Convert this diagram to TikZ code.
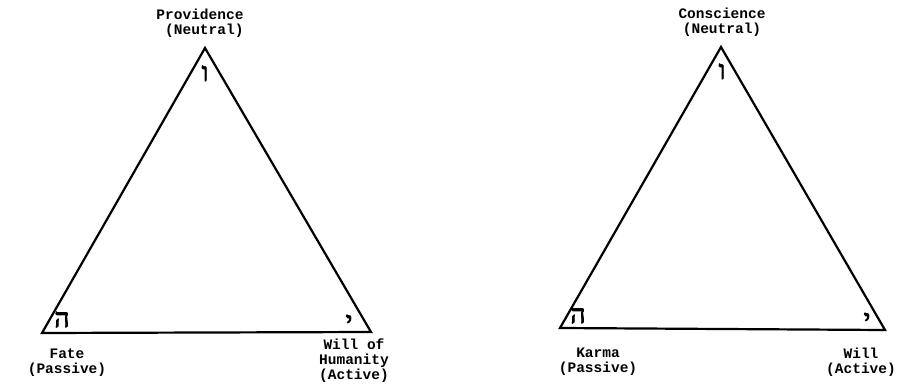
\documentclass[tikz,border=0pt]{standalone}
\usepackage{fontspec}
\setmonofont{Liberation Mono}
\newfontfamily\hebfont[Script=Hebrew, FakeBold=3]{Liberation Serif}
\begin{document}
\begin{tikzpicture}[x=1pt,y=-1pt,
  lbl/.style={font=\ttfamily\bfseries\fontsize{14.5}{15}\selectfont, align=center, inner sep=0pt},
  heb/.style={font=\hebfont\fontsize{26}{26}\selectfont, inner sep=0pt, anchor=base},
  tri/.style={line width=2.2pt, line join=miter}]
\useasboundingbox (0,0) rectangle (918,385);
% left triangle
\coordinate (LA) at (205,48);
\coordinate (LB) at (42,333);
\coordinate (LC) at (371,332);
\draw[tri] (LA) -- (LB) -- (LC) -- cycle;
\node[heb] (lv) at (205,81) {ו};
\node[heb] (lh) at (62,327) {ה};
\node[heb] (ly) at (349,330) {י};
\node[lbl] (prov) at (200,23) {Providence\\\ (Neutral)};
\node[lbl] (fate) at (67,363) {Fate\\(Passive)};
\node[lbl] (will1) at (354,361) {Will of\\Humanity\\(Active)};
% right triangle
\coordinate (RA) at (721,47);
\coordinate (RB) at (560,328);
\coordinate (RC) at (885,330);
\draw[tri] (RA) -- (RB) -- (RC) -- cycle;
\node[heb] (rv) at (722,79) {ו};
\node[heb] (rh) at (578,323) {ה};
\node[heb] (ry) at (867,328) {י};
\node[lbl] (cons) at (722,22) {Conscience\\(Neutral)};
\node[lbl] (karma) at (598,362) {Karma\\(Passive)};
\node[lbl] (will2) at (861,362) {Will\\(Active)};
\end{tikzpicture}
\end{document}
